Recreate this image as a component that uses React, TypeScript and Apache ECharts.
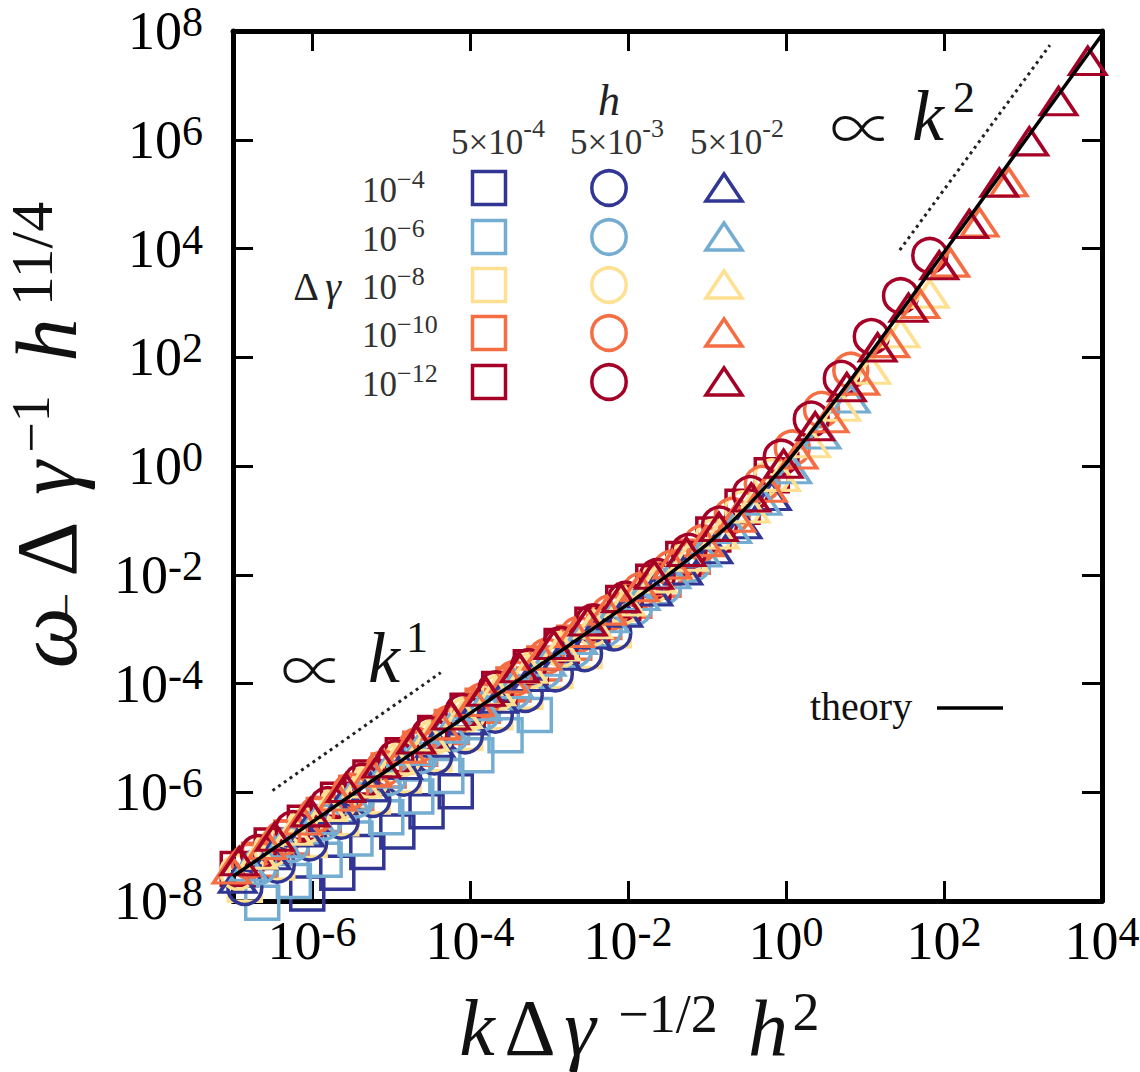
import { useEffect, useRef } from 'react';
import * as echarts from 'echarts';

const SERIF = 'Liberation Serif';

// ticks every second decade
const X_TICKS = [1e-6, 1e-4, 1e-2, 1, 1e2, 1e4];
const Y_TICKS = [1e-8, 1e-6, 1e-4, 1e-2, 1, 1e2, 1e4, 1e6, 1e8];

// legend: rows = Δγ, columns = h
const DG_EXP = ['−4', '−6', '−8', '−10', '−12'];
const H_EXP = ['-4', '-3', '-2'];
const COLORS = ['#313695', '#74add1', '#fee090', '#f46d43', '#a50026'];

// points, [log10 x, log10 y]
// squares, h = 5e-4
const SQ_DG4 = [[-4.18, -5.98], [-4.55, -6.35], [-4.92, -6.72], [-5.3, -7.1], [-5.68, -7.48], [-6.06, -7.86]];
const SQ_DG6 = [[-3.18, -4.58], [-3.55, -4.95], [-3.92, -5.32], [-4.3, -5.7], [-4.68, -6.08], [-5.06, -6.46], [-5.45, -6.85], [-5.84, -7.24], [-6.23, -7.63], [-6.63, -8.03]];
const SQ_DG8 = [[-2.18, -3.02], [-2.55, -3.4], [-2.92, -3.77], [-3.3, -4.15], [-3.68, -4.53], [-4.06, -4.91], [-4.45, -5.3], [-4.84, -5.69], [-5.23, -6.08], [-5.63, -6.48], [-6.03, -6.88], [-6.44, -7.29], [-6.85, -7.7]];
const SQ_DG10 = [[-1.18, -1.67], [-1.55, -2.09], [-1.92, -2.48], [-2.3, -2.87], [-2.68, -3.25], [-3.06, -3.63], [-3.45, -4.02], [-3.84, -4.41], [-4.23, -4.8], [-4.63, -5.2], [-5.03, -5.6], [-5.44, -6.01], [-5.85, -6.42], [-6.26, -6.83], [-6.67, -7.24]];
const SQ_DG12 = [[-0.18, -0.17], [-0.55, -0.75], [-0.92, -1.26], [-1.3, -1.71], [-1.68, -2.13], [-2.06, -2.52], [-2.45, -2.92], [-2.84, -3.31], [-3.23, -3.7], [-3.63, -4.1], [-4.03, -4.5], [-4.44, -4.91], [-4.85, -5.32], [-5.26, -5.73], [-5.67, -6.14], [-6.09, -6.56], [-6.51, -6.98], [-6.94, -7.41]];

// circles, h = 5e-3
const CI_DG4 = [[-2.18, -3.07], [-2.55, -3.45], [-2.92, -3.82], [-3.3, -4.2], [-3.68, -4.58], [-4.06, -4.96], [-4.45, -5.35], [-4.84, -5.74], [-5.23, -6.13], [-5.63, -6.53], [-6.03, -6.93], [-6.44, -7.34], [-6.85, -7.75]];
const CI_DG6 = [[-1.18, -1.8], [-1.55, -2.22], [-1.92, -2.61], [-2.3, -3.0], [-2.68, -3.38], [-3.06, -3.76], [-3.45, -4.15], [-3.84, -4.54], [-4.23, -4.93], [-4.63, -5.33], [-5.03, -5.73], [-5.44, -6.14], [-5.85, -6.55], [-6.26, -6.96], [-6.67, -7.37]];
const CI_DG8 = [[-0.18, -0.2], [-0.55, -0.79], [-0.92, -1.31], [-1.3, -1.77], [-1.68, -2.19], [-2.06, -2.58], [-2.45, -2.98], [-2.84, -3.37], [-3.23, -3.76], [-3.63, -4.16], [-4.03, -4.56], [-4.44, -4.97], [-4.85, -5.38], [-5.26, -5.79], [-5.67, -6.2], [-6.09, -6.62], [-6.51, -7.04], [-6.94, -7.47]];
const CI_DG10 = [[0.82, 1.76], [0.45, 1.04], [0.08, 0.33], [-0.3, -0.32], [-0.68, -0.91], [-1.06, -1.41], [-1.45, -1.88], [-1.84, -2.29], [-2.23, -2.7], [-2.63, -3.1], [-3.03, -3.5], [-3.44, -3.91], [-3.85, -4.32], [-4.26, -4.73], [-4.67, -5.14], [-5.09, -5.56], [-5.51, -5.98], [-5.94, -6.41], [-6.37, -6.84], [-6.8, -7.27]];
const CI_DG12 = [[1.82, 3.87], [1.45, 3.13], [1.08, 2.38], [0.7, 1.61], [0.32, 0.86], [-0.06, 0.16], [-0.45, -0.51], [-0.84, -1.07], [-1.23, -1.57], [-1.63, -2.03], [-2.03, -2.45], [-2.44, -2.87], [-2.85, -3.28], [-3.26, -3.69], [-3.67, -4.1], [-4.09, -4.52], [-4.51, -4.94], [-4.94, -5.37], [-5.37, -5.8], [-5.8, -6.23], [-6.24, -6.67], [-6.68, -7.11]];

// triangles, h = 5e-2
const TR_DG4 = [[-0.18, -0.55], [-0.55, -1.07], [-0.92, -1.53], [-1.3, -1.92], [-1.68, -2.31], [-2.06, -2.7], [-2.45, -3.1], [-2.84, -3.49], [-3.23, -3.88], [-3.63, -4.28], [-4.03, -4.68], [-4.44, -5.09], [-4.85, -5.5], [-5.26, -5.91], [-5.67, -6.32], [-6.09, -6.74], [-6.51, -7.16], [-6.94, -7.59]];
const TR_DG6 = [[0.82, 1.24], [0.45, 0.58], [0.08, -0.06], [-0.3, -0.64], [-0.68, -1.16], [-1.06, -1.59], [-1.45, -1.99], [-1.84, -2.39], [-2.23, -2.8], [-2.63, -3.2], [-3.03, -3.6], [-3.44, -4.01], [-3.85, -4.42], [-4.26, -4.83], [-4.67, -5.24], [-5.09, -5.66], [-5.51, -6.08], [-5.94, -6.51], [-6.37, -6.94], [-6.8, -7.37]];
const TR_DG8 = [[1.82, 3.17], [1.45, 2.44], [1.08, 1.77], [0.7, 1.09], [0.32, 0.42], [-0.06, -0.2], [-0.45, -0.78], [-0.84, -1.26], [-1.23, -1.67], [-1.63, -2.07], [-2.03, -2.49], [-2.44, -2.91], [-2.85, -3.32], [-3.26, -3.73], [-3.67, -4.14], [-4.09, -4.56], [-4.51, -4.98], [-4.94, -5.41], [-5.37, -5.84], [-5.8, -6.27], [-6.24, -6.71], [-6.68, -7.15]];
const TR_DG10 = [[2.82, 5.22], [2.45, 4.48], [2.08, 3.74], [1.7, 2.98], [1.32, 2.26], [0.94, 1.57], [0.55, 0.88], [0.16, 0.21], [-0.23, -0.4], [-0.63, -0.95], [-1.03, -1.4], [-1.44, -1.81], [-1.85, -2.23], [-2.26, -2.66], [-2.67, -3.07], [-3.09, -3.49], [-3.51, -3.91], [-3.94, -4.34], [-4.37, -4.77], [-4.8, -5.2], [-5.24, -5.64], [-5.68, -6.08], [-6.12, -6.52], [-6.57, -6.97], [-7.02, -7.42]];
const TR_DG12 = [[3.82, 7.45], [3.45, 6.71], [3.08, 5.97], [2.7, 5.21], [2.32, 4.45], [1.94, 3.69], [1.55, 2.91], [1.16, 2.18], [0.77, 1.45], [0.37, 0.73], [-0.03, 0.04], [-0.44, -0.58], [-0.85, -1.12], [-1.26, -1.58], [-1.67, -2.0], [-2.09, -2.43], [-2.51, -2.86], [-2.94, -3.29], [-3.37, -3.72], [-3.8, -4.15], [-4.24, -4.59], [-4.68, -5.03], [-5.12, -5.47], [-5.57, -5.92], [-6.02, -6.37], [-6.47, -6.82], [-6.92, -7.27]];

// theory curve and the two guide slopes
const THEORY = [[-7, -7.55], [-6, -6.55], [-5, -5.55], [-4, -4.55], [-3, -3.55], [-2.5, -3.05], [-2, -2.54], [-1.5, -2.01], [-1.25, -1.73], [-1, -1.44], [-0.75, -1.12], [-0.5, -0.76], [-0.25, -0.37], [0, 0.05], [0.25, 0.5], [0.5, 0.97], [0.75, 1.45], [1, 1.94], [1.5, 2.93], [2, 3.93], [3, 5.93], [4, 7.93]];
const GUIDE_K1 = [[-6.5, -5.97], [-4.37, -3.8]];
const GUIDE_K2 = [[1.44, 3.97], [3.34, 7.74]];

const SQUARES = [SQ_DG4, SQ_DG6, SQ_DG8, SQ_DG10, SQ_DG12];
const CIRCLES = [CI_DG4, CI_DG6, CI_DG8, CI_DG10, CI_DG12];
const TRIANGLES = [TR_DG4, TR_DG6, TR_DG8, TR_DG10, TR_DG12];

const toXY = (pts: number[][]) => pts.map(([lx, ly]) => [10 ** lx, 10 ** ly]);

function markerSeries(sets: number[][][], symbol: string, size: number | number[]) {
  return sets.map((pts, i) => ({
    type: 'scatter',
    data: toXY(pts),
    symbol,
    symbolSize: size,
    clip: false,
    silent: true,
    itemStyle: { color: 'rgba(0,0,0,0)', borderColor: COLORS[i], borderWidth: 3.5, opacity: 1 },
    z: 2,
  }));
}

const tickRich = {
  b: { fontFamily: SERIF, fontSize: 54, lineHeight: 60, color: '#000' },
  s: { fontFamily: SERIF, fontSize: 42, lineHeight: 42, verticalAlign: 'top', color: '#000' },
};
const tickLabel = (v: number) => `{b|10}{s|${Math.round(Math.log10(v))}}`;

function makeAxis(position: string, min: number, max: number, ticks: number[], labels: boolean) {
  return {
    type: 'log',
    logBase: 10,
    position,
    min,
    max,
    axisLine: { show: true, onZero: false, lineStyle: { color: '#000', width: 5 } },
    axisTick: { show: true, inside: true, length: 20, customValues: ticks, lineStyle: { color: '#000', width: 3 } },
    axisLabel: labels
      ? { show: true, customValues: ticks, formatter: tickLabel, rich: tickRich, margin: position === 'left' ? 30 : 10 }
      : { show: false },
    minorTick: { show: false },
    splitLine: { show: false },
    minorSplitLine: { show: false },
  };
}

const R_ROWS = [188, 237, 285, 333, 382];
const C_COLS = [489, 609, 724];

// one glyph group of a formula, placed on its own centre
function glyph(text: string, x: number, y: number, size: number, opts: any = {}) {
  return {
    type: 'text', x, y, rotation: opts.rotate ? Math.PI / 2 : 0,
    style: {
      text,
      fontFamily: opts.family || SERIF,
      fontSize: size,
      fontWeight: opts.weight || 'normal',
      lineHeight: size,
      fontStyle: opts.italic ? 'italic' : 'normal',
      fill: opts.fill || '#111',
      align: opts.align || 'center',
      verticalAlign: 'middle',
    },
  };
}

function legendGraphics() {
  const g: any[] = [];
  const small = { fontFamily: SERIF, fill: '#333' };
  g.push(glyph('h', 609, 100, 44, { italic: true, fill: '#222' }));
  [498, 617, 737].forEach((cx, j) => {
    g.push({
      type: 'text', x: cx, y: 142,
      style: {
        text: `{a|5×10}{s|${H_EXP[j]}}`, align: 'center', verticalAlign: 'middle',
        rich: { a: { ...small, fontSize: 35, lineHeight: 54 }, s: { ...small, fontSize: 26, lineHeight: 26, verticalAlign: 'top' } },
      },
    });
  });
  R_ROWS.forEach((cy, i) => {
    g.push({
      type: 'text', x: 362, y: cy + 2,
      style: {
        text: `{a|10}{s|${DG_EXP[i]}}`, align: 'left', verticalAlign: 'middle',
        rich: { a: { ...small, fontSize: 35, lineHeight: 48 }, s: { ...small, fontSize: 26, lineHeight: 26, verticalAlign: 'top' } },
      },
    });
    const st = { fill: 'none', stroke: COLORS[i], lineWidth: 3.5 };
    g.push({ type: 'rect', shape: { x: C_COLS[0] - 16.5, y: cy - 16.5, width: 33, height: 33 }, style: st });
    g.push({ type: 'circle', shape: { cx: C_COLS[1], cy, r: 17.2 }, style: st });
    g.push({ type: 'polygon', shape: { points: [[C_COLS[2] - 18, cy + 13], [C_COLS[2], cy - 14], [C_COLS[2] + 18, cy + 13]] }, style: st });
  });
  g.push(glyph('Δ', 306, 286, 40, { fill: '#222' }));
  g.push(glyph('γ', 333, 286, 40, { italic: true, fill: '#222' }));
  return g;
}

function titleGraphics() {
  const r = { rotate: true };
  const prop = { family: 'Noto Sans CJK JP', weight: 300 };
  return [
    // x-axis title  k Δγ^{-1/2} h^2
    glyph('k', 477, 1028, 80, { italic: true }),
    glyph('Δ', 530, 1028, 80),
    glyph('γ', 580, 1028, 80, { italic: true }),
    glyph('−1/2', 668, 1014, 54),
    glyph('h', 768, 1028, 80, { italic: true }),
    glyph('2', 806, 1012, 54),
    // y-axis title  ω_- Δγ^{-1} h^{11/4}, reading upwards
    glyph('ω', 47, 638, 86, { ...r, italic: true }),
    glyph('−', 66, 605, 44, r),
    glyph('Δ', 47, 549, 86, r),
    glyph('γ', 47, 478, 86, { ...r, italic: true }),
    glyph('−1', 31, 424, 54, r),
    glyph('h', 47, 340, 86, { ...r, italic: true }),
    glyph('11/4', 32, 254, 60, r),
    // slope labels
    glyph('∝', 313, 666, 64, prop),
    glyph('k', 384, 658, 72, { italic: true }),
    glyph('1', 417, 637, 44),
    glyph('∝', 862, 124, 64, prop),
    glyph('k', 928, 116, 72, { italic: true }),
    glyph('2', 964, 97, 44),
    // theory key
    glyph('theory', 810, 706, 40, { align: 'left' }),
    { type: 'line', shape: { x1: 937, y1: 708, x2: 1003, y2: 708 }, style: { stroke: '#000', lineWidth: 3.5 } },
  ];
}

export default function App() {
  const ref = useRef<HTMLDivElement>(null);

  useEffect(() => {
    document.body.style.margin = '0';
    if (!ref.current) return;
    const chart = echarts.init(ref.current, undefined, { renderer: 'svg' });

    const guide = (pts: number[][]) => ({
      type: 'line', data: toXY(pts), showSymbol: false, symbol: 'none', silent: true, z: 4,
      lineStyle: { color: '#222', width: 3, type: [3, 4] },
    });

    chart.setOption({
      animation: false,
      backgroundColor: '#fff',
      textStyle: { fontFamily: SERIF },
      grid: { left: 233, top: 31, width: 869, height: 870, containLabel: false, outerBoundsMode: 'none' },
      xAxis: [
        makeAxis('bottom', 1e-7, 1e4, X_TICKS, true),
        makeAxis('top', 1e-7, 1e4, X_TICKS, false),
      ],
      yAxis: [
        makeAxis('left', 1e-8, 1e8, Y_TICKS, true),
        makeAxis('right', 1e-8, 1e8, Y_TICKS, false),
      ],
      series: [
        ...markerSeries(SQUARES, 'rect', 33),
        ...markerSeries(CIRCLES, 'circle', 34),
        ...markerSeries(TRIANGLES, 'triangle', [36, 27]),
        guide(GUIDE_K1),
        guide(GUIDE_K2),
        {
          type: 'line', data: toXY(THEORY), showSymbol: false, symbol: 'none', silent: true, z: 5,
          lineStyle: { color: '#000', width: 3.5 },
        },
      ],
      graphic: [...legendGraphics(), ...titleGraphics()],
    });

    return () => chart.dispose();
  }, []);

  return <div ref={ref} style={{ width: 1140, height: 1072 }} />;
}
